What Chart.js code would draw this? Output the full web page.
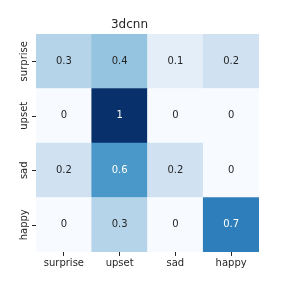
<!DOCTYPE html>
<html>
<head>
<meta charset="utf-8">
<script src="https://cdn.jsdelivr.net/npm/chart.js@4/dist/chart.umd.min.js"></script>
<style>
  body { margin: 0; background: #fff; }
</style>
</head>
<body>
<canvas id="graphique" width="288" height="288"></canvas>
<script>
var etiquettes = ['surprise', 'upset', 'sad', 'happy'];
// lignes du haut vers le bas
var rangSurprise = [0.3, 0.4, 0.1, 0.2];
var rangUpset = [0, 1, 0, 0];
var rangSad = [0.2, 0.6, 0.2, 0];
var rangHappy = [0, 0.3, 0, 0.7];
var lignes = [rangSurprise, rangUpset, rangSad, rangHappy];

// palette Blues (matplotlib), de 0 a 1
var bleus = [
  [0.0, [247, 251, 255]], [0.125, [222, 235, 247]], [0.25, [198, 219, 239]],
  [0.375, [158, 202, 225]], [0.5, [107, 174, 214]], [0.625, [66, 146, 198]],
  [0.75, [33, 113, 181]], [0.875, [8, 81, 156]], [1.0, [8, 48, 107]]
];
function couleur(v) {
  for (var i = 1; i < bleus.length; i++) {
    if (v <= bleus[i][0]) {
      var a = bleus[i - 1], b = bleus[i];
      var t = (v - a[0]) / (b[0] - a[0]);
      var c = a[1].map(function (x, k) { return Math.round(x + (b[1][k] - x) * t); });
      return 'rgb(' + c.join(',') + ')';
    }
  }
  return 'rgb(8,48,107)';
}

// un dataset par ligne, empile du bas (happy) vers le haut (surprise)
var datasets = [];
for (var r = lignes.length - 1; r >= 0; r--) {
  datasets.push({
    label: etiquettes[r],
    data: [1, 1, 1, 1],
    valeurs: lignes[r],
    backgroundColor: lignes[r].map(couleur),
    borderWidth: 0,
    barPercentage: 1,
    categoryPercentage: 1
  });
}

var texteCellules = {
  id: 'texteCellules',
  afterDatasetsDraw: function (chart) {
    var ctx = chart.ctx;
    ctx.save();
    ctx.font = '10px "DejaVu Sans"';
    ctx.textAlign = 'center';
    ctx.textBaseline = 'middle';
    chart.data.datasets.forEach(function (ds, i) {
      chart.getDatasetMeta(i).data.forEach(function (bar, j) {
        var v = ds.valeurs[j];
        ctx.fillStyle = v > 0.5 ? '#ffffff' : '#262626';
        ctx.fillText(String(v), bar.x, (bar.y + bar.base) / 2);
      });
    });
    ctx.restore();
  }
};

// etiquettes verticales et traits de l'axe y
var etiquettesY = {
  id: 'etiquettesY',
  afterDraw: function (chart) {
    var ctx = chart.ctx;
    var sy = chart.scales.y;
    ctx.save();
    ctx.font = '10px "DejaVu Sans"';
    ctx.fillStyle = '#262626';
    ctx.strokeStyle = '#262626';
    ctx.lineWidth = 1;
    ctx.textAlign = 'center';
    ctx.textBaseline = 'middle';
    sy.ticks.forEach(function (t) {
      var py = Math.round(sy.getPixelForValue(t.value)) + 0.5;
      ctx.beginPath();
      ctx.moveTo(sy.right - 4, py);
      ctx.lineTo(sy.right, py);
      ctx.stroke();
      ctx.save();
      ctx.translate(sy.right - 11.5, sy.getPixelForValue(t.value));
      ctx.rotate(-Math.PI / 2);
      ctx.fillText(etiquettes[3 - Math.floor(t.value)], 0, 0);
      ctx.restore();
    });
    ctx.restore();
  }
};

var ctx = document.getElementById('graphique').getContext('2d');
var chart = new Chart(ctx, {
  type: 'bar',
  data: { labels: etiquettes, datasets: datasets },
  plugins: [texteCellules, etiquettesY],
  options: {
    responsive: false,
    animation: false,
    layout: { padding: { left: 0, right: 29, top: 0, bottom: 0 } },
    plugins: {
      legend: { display: false },
      tooltip: { enabled: false },
      title: {
        display: true,
        text: '3dcnn',
        color: '#262626',
        font: { family: 'DejaVu Sans', size: 12, weight: 'normal', lineHeight: 1.2 },
        padding: { top: 18, bottom: 1.6 }
      }
    },
    scales: {
      x: {
        stacked: true,
        offset: true,
        border: { display: false },
        grid: { offset: false, drawOnChartArea: false, drawTicks: true, tickLength: 4, color: '#262626' },
        ticks: { color: '#262626', font: { family: 'DejaVu Sans', size: 10 }, padding: 1, maxRotation: 0 },
        afterFit: function (s) { s.height = 36; }
      },
      y: {
        stacked: true,
        min: 0,
        max: 4,
        border: { display: false },
        afterBuildTicks: function (s) {
          s.ticks = [0.5, 1.5, 2.5, 3.5].map(function (v) { return { value: v }; });
        },
        grid: { display: false },
        ticks: { display: false },
        afterFit: function (s) { s.width = 36; }
      }
    }
  }
});
</script>
</body>
</html>
